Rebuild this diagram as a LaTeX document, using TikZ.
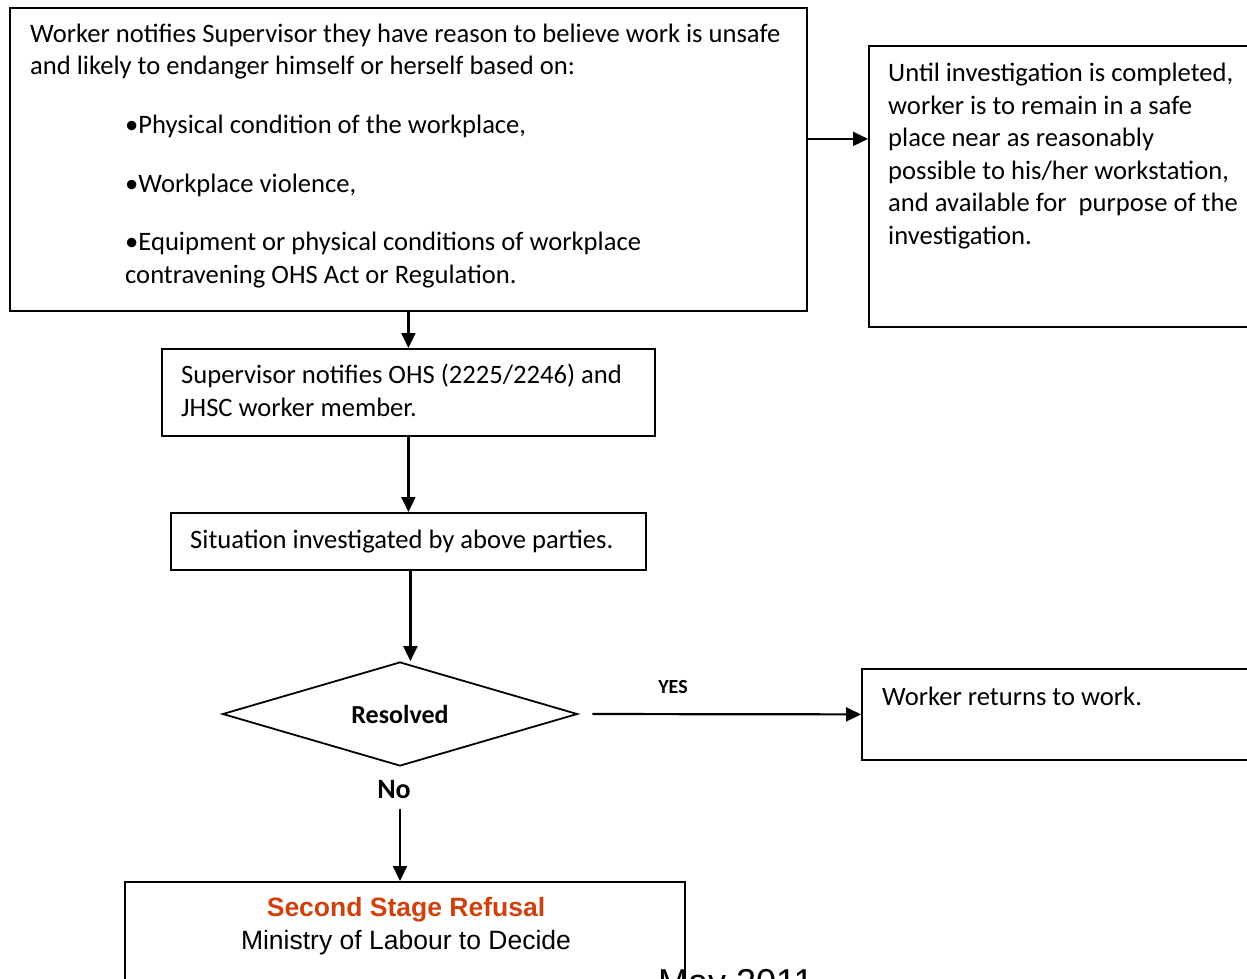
\documentclass[tikz,border=0pt]{standalone}
\usepackage{fontspec}
\setmainfont{Carlito}
\newfontfamily\arialfont{Liberation Sans}
\usetikzlibrary{arrows.meta,shapes.geometric}
\definecolor{refusalred}{RGB}{208,64,12}

\begin{document}
\begin{tikzpicture}[x=1pt,y=-1pt,
	box/.style={draw,line width=1.8pt,inner sep=0pt,anchor=north west},
	txt/.style={inner sep=0pt,anchor=base west,align=left,font=\fontsize{26.6}{32.5}\selectfont},
	arr/.style={line width=2.2pt,-{Triangle[length=15pt,width=14pt]}}]
\useasboundingbox (0,0) rectangle (1247,979);
\clip (0,0) rectangle (1247,979);

% boxes (text nodes anchored at the baseline of their last line)
\node[box,minimum width=797pt,minimum height=303pt] (notify) at (9,7) {};
\node[txt] (notifytxt) at (30,75) {Worker notifies Supervisor they have reason to believe work is unsafe\\and likely to endanger himself or herself based on:};
\node[txt] (bullets) at (125,283) {•Physical condition of the workplace,\\[26pt]•Workplace violence,\\[26pt]•Equipment or physical conditions of workplace\\contravening OHS Act or Regulation.};

\node[box,minimum width=420pt,minimum height=281pt] (wait) at (868,45) {};
\node[txt] (waittxt) at (888,244) {Until investigation is completed,\\worker is to remain in a safe\\place near as reasonably\\possible to his/her workstation,\\and available for\ \ purpose of the\\investigation.};

\node[box,minimum width=493pt,minimum height=87pt] (super) at (161,348) {};
\node[txt] (supertxt) at (181,416) {Supervisor notifies OHS (2225/2246) and\\JHSC worker member.};

\node[box,minimum width=475pt,minimum height=57pt] (invest) at (170,512) {};
\node[txt] (investtxt) at (190,548) {Situation investigated by above parties.};

\node[draw,diamond,line width=1.8pt,inner sep=0pt,aspect=3.4,minimum width=355pt,minimum height=104pt,
	font=\fontsize{26}{32.5}\selectfont\bfseries] (resolved) at (400,714) {Resolved};

\node[box,minimum width=420pt,minimum height=91pt] (back) at (861,668) {};
\node[txt] (backtxt) at (882,705) {Worker returns to work.};

\node[font=\fontsize{20}{24}\selectfont\bfseries] (yes) at (673,687) {YES};
\node[font=\fontsize{28}{32}\selectfont\bfseries] (no) at (394,790) {No};

\node[box,minimum width=560pt,minimum height=200pt] (refusal) at (124,881) {};
\node[align=center,inner sep=0pt,font=\arialfont\fontsize{26.5}{32.5}\selectfont] (refusaltxt) at (406,926)
	{\textcolor{refusalred}{\bfseries Second Stage Refusal}\\Ministry of Labour to Decide};

\node[inner sep=0pt,anchor=base west,font=\arialfont\fontsize{36}{40}\selectfont] (date) at (658,994) {May 2011};

% connectors
\coordinate (waitpt) at ([yshift=20.5pt]notify.east);
\draw[arr] (waitpt) -- (waitpt -| wait.west);
\draw[arr] (notify.south) -- (super.north);
\draw[arr] (super.south) -- (invest.north);
\draw[arr] ([xshift=2pt]invest.south) -- ([xshift=2pt]invest.south |- resolved.north);
\draw[arr,shorten <=14pt] (resolved.east) -- (back.west);
\draw[arr,shorten <=6pt] (resolved.south |- no.south) -- (resolved.south |- refusal.north);

\end{tikzpicture}
\end{document}
